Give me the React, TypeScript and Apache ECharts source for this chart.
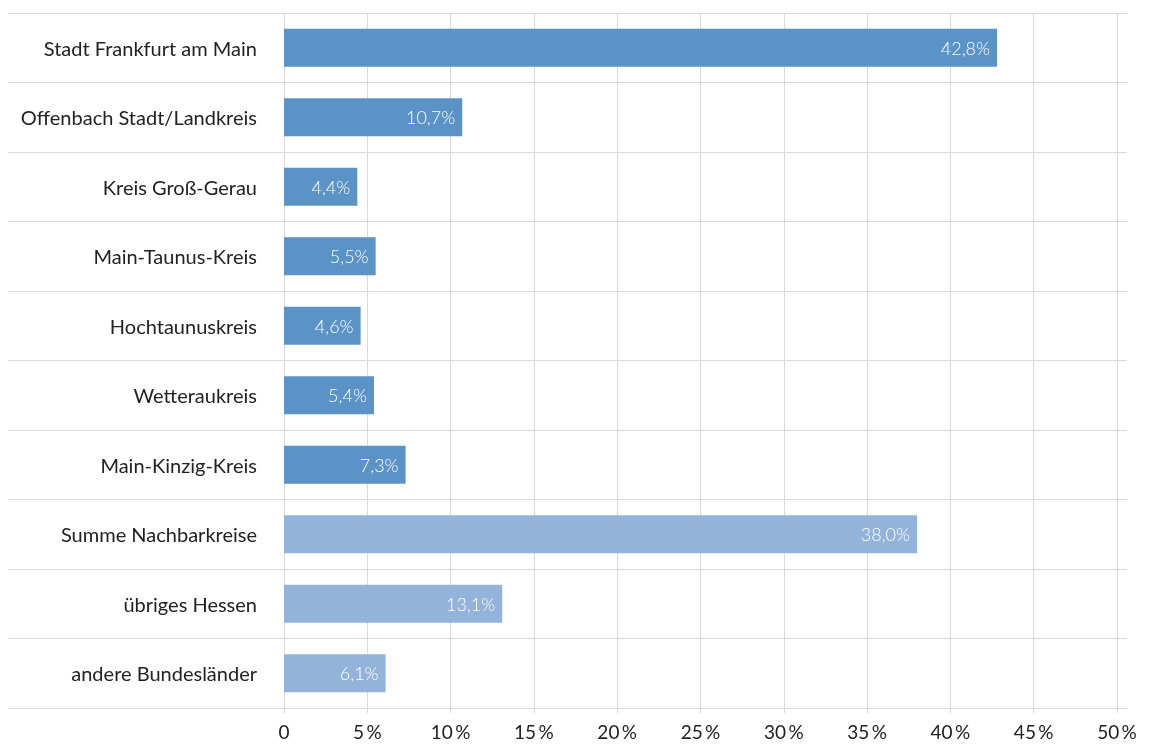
import React, { useEffect, useRef } from "react";
import * as echarts from "echarts";

const categories = [
  "Stadt Frankfurt am Main",
  "Offenbach Stadt/Landkreis",
  "Kreis Groß-Gerau",
  "Main-Taunus-Kreis",
  "Hochtaunuskreis",
  "Wetteraukreis",
  "Main-Kinzig-Kreis",
  "Summe Nachbarkreise",
  "übriges Hessen",
  "andere Bundesländer",
];
const values = [42.8, 10.7, 4.4, 5.5, 4.6, 5.4, 7.3, 38.0, 13.1, 6.1];
const lightCategories = ["Summe Nachbarkreise", "übriges Hessen", "andere Bundesländer"];

const DARK = "#5b93c6";
const LIGHT = "#94b3db";
const GRID = "#d9d9d9";
const FONT = "Lato, 'Noto Sans', sans-serif";

export default function App() {
  const ref = useRef<HTMLDivElement>(null);
  useEffect(() => {
    const chart = echarts.init(ref.current!, null, { renderer: "svg" });
    chart.setOption({
      animation: false,
      grid: [
        { left: 8, right: 22, top: 13, bottom: 36 },
        { left: 284, right: 32, top: 13, bottom: 36 },
      ],
      xAxis: [
        { gridIndex: 0, type: "value", show: false, min: 0, max: 1 },
        {
          gridIndex: 1,
          type: "value",
          min: 0,
          max: 50,
          interval: 5,
          axisLine: { show: false },
          axisTick: { show: true, length: 5, lineStyle: { color: GRID } },
          splitLine: { show: true, lineStyle: { color: GRID, width: 1 } },
          axisLabel: {
            color: "#222",
            fontSize: 19,
            fontWeight: 400,
            fontFamily: FONT,
            margin: 14,
            formatter: (v: number) => (v === 0 ? "0" : v + "\u2009%"),
          },
        },
      ],
      yAxis: [
        {
          gridIndex: 0,
          type: "category",
          data: categories,
          inverse: true,
          axisLine: { show: false },
          axisTick: { show: false },
          axisLabel: { show: false },
          splitLine: { show: true, lineStyle: { color: GRID, width: 1 } },
        },
        {
          gridIndex: 1,
          type: "category",
          data: categories,
          inverse: true,
          axisLine: { show: false },
          axisTick: { show: false },
          splitLine: { show: false },
          axisLabel: {
            color: "#222",
            fontSize: 20,
            fontWeight: 400,
            fontFamily: FONT,
            margin: 27,
          },
        },
      ],
      series: [
        {
          type: "bar",
          xAxisIndex: 0,
          yAxisIndex: 0,
          data: [],
          silent: true,
        },
        {
          type: "bar",
          xAxisIndex: 1,
          yAxisIndex: 1,
          barWidth: "55%",
          data: values.map((v, i) => ({
            value: v,
            itemStyle: { color: lightCategories.includes(categories[i]) ? LIGHT : DARK },
          })),
          label: {
            show: true,
            position: "insideRight",
            distance: 7,
            color: "#fff",
            fontSize: 18,
            fontWeight: 300,
            fontFamily: FONT,
            formatter: (p: any) => p.value.toFixed(1).replace(".", ",") + "%",
          },
        },
      ],
    });
    return () => chart.dispose();
  }, []);
  return (
    <div
      ref={ref}
      style={{ position: "fixed", left: 0, top: 0, width: 1149, height: 744 }}
    />
  );
}
